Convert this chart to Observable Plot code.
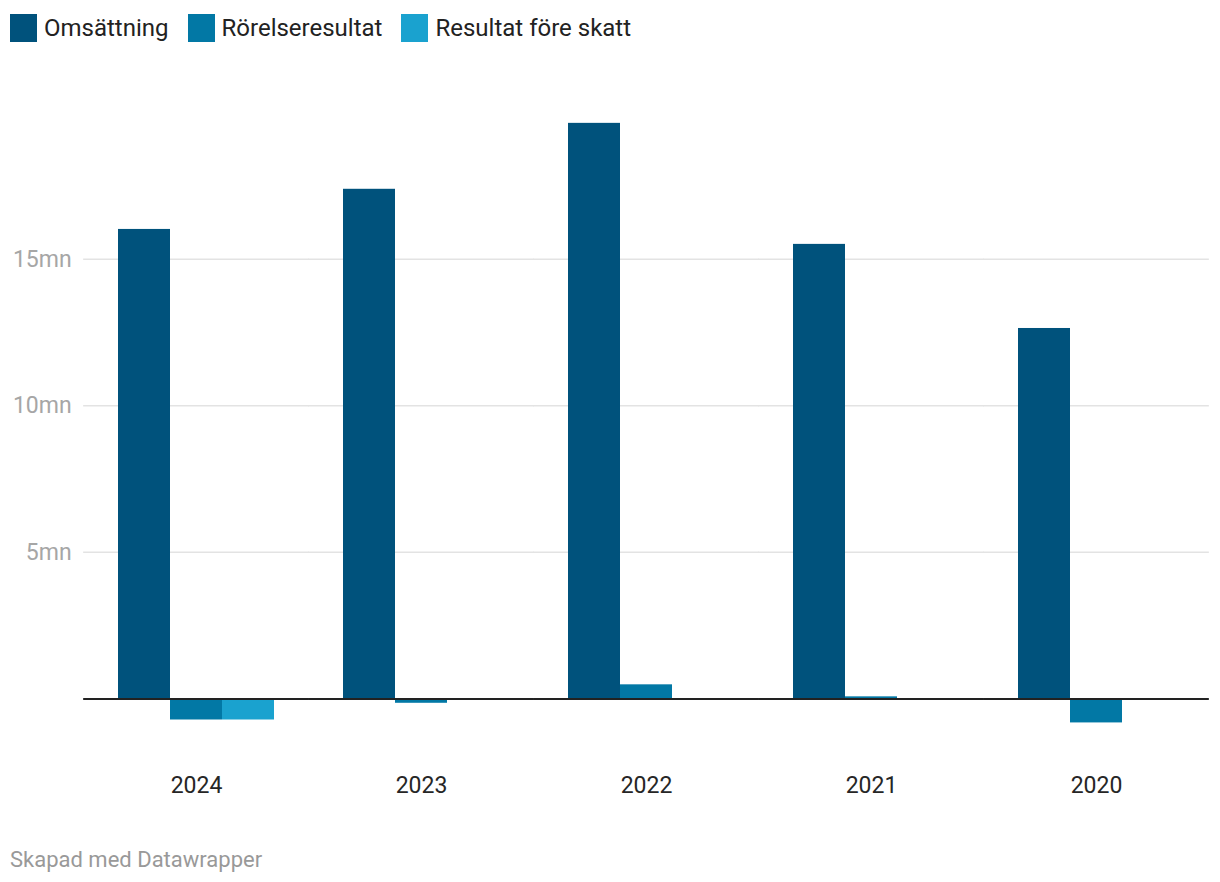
<!DOCTYPE html>
<html>
<head>
<meta charset="utf-8">
<script src="https://cdn.jsdelivr.net/npm/d3@7"></script>
<script src="https://cdn.jsdelivr.net/npm/@observablehq/plot@0.6"></script>
<style>
  html, body { margin: 0; padding: 0; background: #fff; }
  body { width: 1220px; height: 882px; font-family: Roboto, sans-serif; overflow: hidden; }
  #legend { height: 56px; display: flex; align-items: center; padding-left: 10px; font-size: 24px; color: #222; }
  .item { display: flex; align-items: center; margin-right: 19px; }
  .sw { width: 27px; height: 28px; margin-right: 7px; }
  #caption { font-size: 22px; color: #999; padding-left: 10px; margin-top: 30px; }
  svg { display: block; }
</style>
</head>
<body>
<div id="legend"></div>
<div id="chart"></div>
<div id="caption">Skapad med Datawrapper</div>
<script>
const years = ["2024", "2023", "2022", "2021", "2020"];
const series = ["Omsättning", "Rörelseresultat", "Resultat före skatt"];
const colors = ["#00527c", "#0278a5", "#1aa2cf"];
const omsattning = [16.02, 17.39, 19.64, 15.51, 12.64];
const rorelseresultat = [-0.72, -0.15, 0.48, 0.07, -0.82];
const resultatForeSkatt = [-0.72, null, null, null, null];
const yTicks = [5, 10, 15];

const seriesValues = [omsattning, rorelseresultat, resultatForeSkatt];
const data = [];
years.forEach((y, i) => {
  series.forEach((s, j) => {
    const v = seriesValues[j][i];
    if (v != null) data.push({year: y, series: s, value: v});
  });
});

const legend = document.getElementById("legend");
series.forEach((s, j) => {
  const it = document.createElement("div");
  it.className = "item";
  it.innerHTML = `<div class="sw" style="background:${colors[j]}"></div><span>${s}</span>`;
  legend.appendChild(it);
});

const W = 1220, mL = 82, mR = 10;
const pIn = 0.3, pOut = 0.15;
const step = (W - mL - mR) / (years.length - pIn + 2 * pOut);
const ext = -(step * pIn) / 2; // extend rules across gaps between facets

const chart = Plot.plot({
  width: W,
  height: 761,
  marginLeft: mL,
  marginRight: mR,
  marginTop: 27,
  marginBottom: 60,
  style: { fontFamily: "Roboto, sans-serif", fontSize: "23px", background: "#fff" },
  fx: { domain: years, paddingInner: pIn, paddingOuter: pOut, label: null, axis: null },
  x: { domain: series, padding: 0, axis: null },
  y: { domain: [-2, 21], axis: null },
  color: { domain: series, range: colors },
  marks: [
    Plot.ruleY(yTicks, { stroke: "#e3e3e3", strokeWidth: 1.5, insetLeft: ext, insetRight: ext }),
    Plot.axisY({ ticks: yTicks, tickSize: 0, tickPadding: 12 - ext, tickFormat: d => d + "mn", fill: "#a6a6a6", fontSize: 23, label: null }),
    Plot.barY(data, { fx: "year", x: "series", y: "value", fill: "series" }),
    Plot.axisFx({ anchor: "bottom", tickSize: 0, tickPadding: 19, fill: "#262626", fontSize: 23, label: null }),
    Plot.ruleY([0], { stroke: "#222", strokeWidth: 2, insetLeft: ext, insetRight: ext })
  ]
});
document.getElementById("chart").appendChild(chart);
</script>
</body>
</html>
